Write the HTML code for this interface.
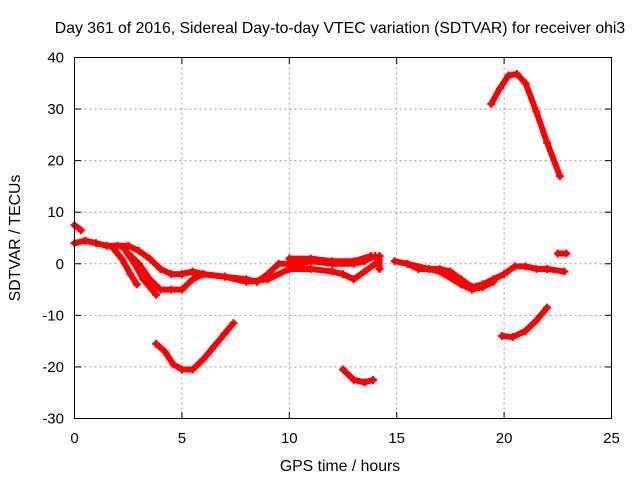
<!DOCTYPE html>
<html><head><meta charset="utf-8"><style>
body{margin:0;background:#fff}
svg{display:block;font-family:"Liberation Sans",sans-serif}
</style></head><body>
<svg id="chart" width="640" height="480" viewBox="0 0 640 480">
<rect width="640" height="480" fill="#fff"/>
<g id="grid"></g>
<g id="series"></g>
<rect x="74.5" y="57.5" width="537" height="361" fill="none" stroke="#000" stroke-width="1"/>
<g id="ticks"></g>
<text x="340" y="33" text-anchor="middle" font-size="15.8">Day 361 of 2016, Sidereal Day-to-day VTEC variation (SDTVAR) for receiver ohi3</text>
<text x="340" y="471" text-anchor="middle" font-size="15.8">GPS time / hours</text>
<text transform="translate(20,238) rotate(-90)" text-anchor="middle" font-size="15.8">SDTVAR / TECUs</text>
</svg>
<script>
const xTicks=[0,5,10,15,20,25];
const yTicks=[40,30,20,10,0,-10,-20,-30];
const segA=[[0,7.5],[0.3,6.5]];
const segB=[[0,4],[0.5,4.5],[1,4],[1.5,3.5],[2,3.5],[2.5,3.5],[3,2.5],[3.5,1],[4,-1],[4.5,-2],[5,-2],[5.5,-1.5],[6,-2],[7,-2.5],[8,-3],[8.5,-3.5],[9,-2],[9.5,0],[10,0],[10.5,0],[11,0.5],[12,0],[13,0],[13.5,0.5],[14,1.5]];
const segC=[[1.8,3],[2.2,1],[2.6,-2],[2.9,-4]];
const segD=[[2.3,3],[2.8,0],[3.2,-3],[3.8,-6]];
const segE=[[2.5,2],[3,0],[3.5,-3],[4,-5],[4.5,-5],[5,-5],[5.5,-3],[6,-2],[7,-2.5],[8,-3.5],[9,-3],[10,-1],[11,-1],[12,-1.5],[12.5,-2],[13,-3],[13.5,-1.5],[14,0]];
const segF=[[3.8,-15.5],[4.2,-17],[4.6,-19.5],[5,-20.5],[5.5,-20.5],[6,-18.5],[6.5,-16],[7,-13.5],[7.4,-11.5]];
const segG=[[12.5,-20.5],[13,-22.5],[13.5,-23],[13.9,-22.5]];
const segH=[[14.2,1.5],[14.2,-1]];
const segI=[[14.9,0.5],[15.5,0],[16,-1],[16.5,-1],[17,-1],[17.5,-1.5],[18,-3],[18.5,-4.5],[19,-4],[19.5,-3],[20,-2],[20.5,-0.5],[21,-0.5],[21.5,-1],[22,-1],[22.8,-1.5]];
const segJ=[[19.4,31],[19.8,34],[20.2,36.5],[20.6,36.8],[21,35],[21.5,29.5],[22,23.5],[22.6,17]];
const segK=[[19.9,-14],[20.4,-14.2],[21,-13],[21.5,-11],[22,-8.5]];
const segL=[[22.5,2],[22.9,2]];
const segM=[[10,1],[11,1],[12,0.5],[13,0.5],[13.8,1.5]];
const segN=[[15.5,0],[17,-1.5],[18,-4],[18.5,-5],[19,-4.5],[19.5,-3.5]];
const segments=[segA,segB,segC,segD,segE,segF,segG,segH,segI,segJ,segK,segL,segM,segN];
const X=v=>74.5+v*537/25;
const Y=v=>57.5+(40-v)*361/70;
const NS="http://www.w3.org/2000/svg";
const grid=document.getElementById('grid'),ticks=document.getElementById('ticks'),ser=document.getElementById('series');
function mk(tag,attrs,parent){const e=document.createElementNS(NS,tag);for(const k in attrs)e.setAttribute(k,attrs[k]);parent.appendChild(e);return e;}
xTicks.forEach(t=>{
  const x=X(t);
  if(t>0&&t<25){const g=mk('line',{x1:x,x2:x,y1:57.5,y2:418.5,stroke:'#999','stroke-dasharray':'2,3'},grid);
  
  }
  mk('line',{x1:x,x2:x,y1:418.5,y2:412,stroke:'#000'},ticks);
  mk('line',{x1:x,x2:x,y1:57.5,y2:64,stroke:'#000'},ticks);
  const l=mk('text',{x:x,y:443,'text-anchor':'middle','font-size':15},ticks);l.textContent=t;
  
  
});
yTicks.forEach(t=>{
  const y=Y(t);
  if(t<40&&t>-30){const g=mk('line',{x1:74.5,x2:611.5,y1:y,y2:y,stroke:'#999','stroke-dasharray':'2,3'},grid);
  
  }
  mk('line',{x1:74.5,x2:81,y1:y,y2:y,stroke:'#000'},ticks);
  mk('line',{x1:611.5,x2:605,y1:y,y2:y,stroke:'#000'},ticks);
  const l=mk('text',{x:64,y:y+5,'text-anchor':'end','font-size':15},ticks);l.textContent=t;
  
  
});
segments.forEach(seg=>{
  const p=mk('polyline',{points:seg.map(d=>X(d[0])+','+Y(d[1])).join(' '),fill:'none',stroke:'#f00','stroke-width':6,'stroke-linejoin':'round','stroke-linecap':'round'},ser);
  
  
  seg.forEach(d=>{const x=X(d[0]),y=Y(d[1]);
    const c=mk('path',{d:`M${x-4},${y}H${x+4}M${x},${y-4}V${y+4}`,stroke:'#f00','stroke-width':2},ser);
    
    
  });
});
</script>
</body></html>
